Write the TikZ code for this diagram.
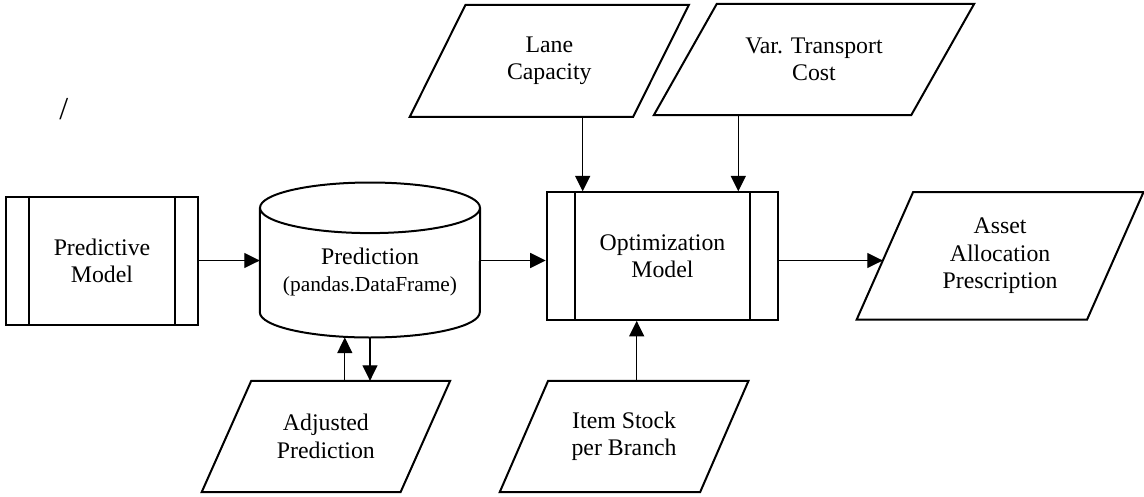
\documentclass[tikz,border=0pt]{standalone}
\usepackage{fontspec}
\setmainfont{Liberation Serif}
\usetikzlibrary{arrows.meta,calc}

% parallelogram drawn around a (text-only) rectangle node; #2 = half the slant
\newcommand\drawpara[2]{%
  \draw[boxline] ([xshift=-#2]#1.south west) -- ([xshift=#2]#1.north west)
    -- ([xshift=#2]#1.north east) -- ([xshift=-#2]#1.south east) -- cycle;}
% predefined-process box: outer frame plus two inner bars at distance #2
\newcommand\drawbars[2]{%
  \draw[barline] ([xshift=#2]#1.north west) -- ([xshift=#2]#1.south west);
  \draw[barline] ([xshift=-#2]#1.north east) -- ([xshift=-#2]#1.south east);}

\begin{document}
\begin{tikzpicture}[x=1pt,y=-1pt,
  every node/.style={font=\fontsize{23.8pt}{27.4pt}\selectfont, align=center, inner sep=0pt},
  boxline/.style={line width=2pt, line join=miter},
  barline/.style={line width=1.8pt},
  procbox/.style={draw, boxline},
  textbox/.style={draw=none},
  arr/.style={line width=1.2pt, -{Triangle[length=15.5pt,width=15pt]}}]

\fill[white] (0,0) rectangle (1144,496);
\useasboundingbox (0,0) rectangle (1144,496);

% stray slash label
\node[font=\fontsize{32pt}{32pt}\selectfont] (slash) at (63.7,108.7) {/};

% predictive model
\node[procbox, minimum width=192.6pt, minimum height=128.3pt] (pm) at (102,260.9) {Predictive\\Model};
\drawbars{pm}{24.3pt}

% prediction store (cylinder)
\node[textbox, minimum width=220pt, minimum height=154.6pt] (pred) at (370,260) {};
\node (predtext) at (370,272) {Prediction\\[0.5pt]{\fontsize{21.4pt}{25pt}\selectfont(pandas.DataFrame)}};
\draw[boxline] ($(pred.north)+(0,25.3)$) ellipse [x radius=110, y radius=25.3];
\draw[boxline] ($(pred.north west)+(0,25.3)$) -- ($(pred.south west)+(0,-25.3)$)
  arc[start angle=180, end angle=0, x radius=110, y radius=25.3]
  -- ($(pred.north east)+(0,25.3)$);

% optimization model
\node[procbox, minimum width=231.6pt, minimum height=127.5pt] (opt) at (662.5,256.1) {Optimization\\Model};
\drawbars{opt}{29pt}

% data parallelograms
\node[textbox, minimum width=223pt, minimum height=111.7pt] (lane) at (549.3,60.9) {Lane\\Capacity};
\drawpara{lane}{27.9pt}
\node[textbox, minimum width=257pt, minimum height=111pt] (var) at (814,59.5) {Var. Transport\\Cost};
\drawpara{var}{31.5pt}
\node[textbox, minimum width=230pt, minimum height=127pt] (asset) at (1000.1,255.8) {Asset\\Allocation\\Prescription};
\drawpara{asset}{28.2pt}
\node[textbox, minimum width=198.5pt, minimum height=111pt] (adj) at (325.9,436.5) {Adjusted\\Prediction};
\drawpara{adj}{24.8pt}
\node[textbox, minimum width=200pt, minimum height=111pt] (item) at (624.1,436.5) {Item Stock\\per Branch};
\drawpara{item}{24.2pt}

% connector positions
\coordinate (row) at (0,260.5);
\coordinate (lx) at (582.7,0);
\coordinate (vx) at (738.3,0);
\coordinate (ix) at (636.7,0);
\coordinate (ux) at (344.8,0);

% connectors
\draw[arr] (pm.east |- row) -- (pred.west |- row);
\draw[arr] (pred.east |- row) -- (opt.west |- row);
\draw[arr, shorten >=2.1pt] (opt.east |- row) -- (asset.west |- row);
\draw[arr] (lane.south -| lx) -- (opt.north -| lx);
\draw[arr] (var.south -| vx) -- (opt.north -| vx);
\draw[arr] (item.north -| ix) -- (opt.south -| ix);
\draw[arr] (adj.north -| ux) -- (pred.south -| ux);
\draw[arr] (pred.south) -- (adj.north -| pred.south);
\end{tikzpicture}
\end{document}
